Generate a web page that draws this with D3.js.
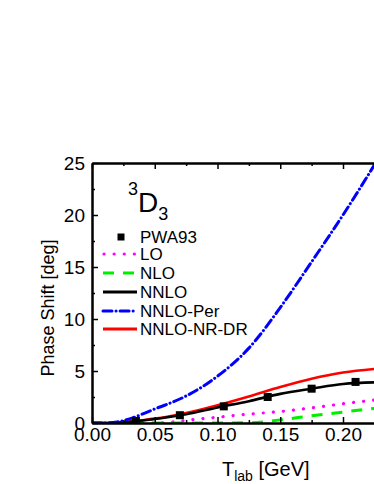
<!DOCTYPE html>
<html>
<head>
<meta charset="utf-8">
<script src="https://cdn.jsdelivr.net/npm/d3@7"></script>
<style>
  body { margin: 0; background: #fff; }
  svg { display: block; font-family: "Liberation Sans", Arial, sans-serif; }
</style>
</head>
<body>
<div id="chart"></div>
<script>
// energies (GeV) used for the curves
var tlab = [0, 0.01, 0.02, 0.03, 0.04, 0.05, 0.06, 0.075, 0.1, 0.125, 0.15, 0.175, 0.2, 0.23];
var lo      = [0, 0, 0, 0, 0, 0, 0.05, 0.25, 0.55, 0.85, 1.1, 1.45, 1.85, 2.28];
var nlo     = [0, 0, 0, 0, 0, 0, 0, 0, 0, 0.02, 0.3, 0.7, 1.05, 1.48];
var nnlo    = [0, 0, 0.03, 0.12, 0.24, 0.38, 0.55, 0.85, 1.5, 2.1, 2.8, 3.3, 3.75, 3.92];
var nnloPer = [0, 0, 0.1, 0.4, 0.85, 1.35, 1.8, 2.6, 4.5, 7.2, 11.1, 15.5, 20.0, 25.8];
var nnloDR  = [0, 0, 0.03, 0.13, 0.27, 0.42, 0.6, 0.95, 1.7, 2.55, 3.45, 4.25, 4.85, 5.25];

// PWA93 points
var pwaT   = [0.035, 0.07, 0.105, 0.14, 0.175, 0.21];
var pwaVal = [0.2, 0.75, 1.6, 2.5, 3.3, 3.95];

var xTicks = [0, 0.05, 0.1, 0.15, 0.2, 0.25];
var yTicks = [0, 5, 10, 15, 20, 25];

var seriesNames = ['LO', 'NLO', 'NNLO', 'NNLO-Per', 'NNLO-NR-DR'];
var seriesVals = [lo, nlo, nnlo, nnloPer, nnloDR];
var seriesColors = ['#ff00ff', '#00ee00', '#000000', '#0000ff', '#ff0000'];
var seriesDash = ['0.1,10', '11,9', null, '9,4,0.1,4', null];

(function () {
    var width = 374, height = 484;
    var left = 92, plotTop = 163, bottom = 423, plotRight = 405.75;

    var svg = d3.select('#chart').append('svg')
        .attr('width', width)
        .attr('height', height);

    var x = d3.scaleLinear().domain([0, 0.25]).range([left, plotRight]);
    var y = d3.scaleLinear().domain([0, 25]).range([bottom, plotTop]);

    svg.append('clipPath').attr('id', 'plotclip')
        .append('rect')
        .attr('x', left).attr('y', plotTop)
        .attr('width', plotRight - left).attr('height', bottom - plotTop);

    var line = d3.line()
        .x(function (d) { return x(d[0]); })
        .y(function (d) { return y(d[1]); })
        .curve(d3.curveMonotoneX);

    var plot = svg.append('g').attr('clip-path', 'url(#plotclip)');

    // draw order: LO, NLO under, then red, black, blue
    [0, 1, 4, 2, 3].forEach(function (k) {
        var pts = tlab.map(function (t, i) { return [t, seriesVals[k][i]]; });
        plot.append('path')
            .attr('d', line(pts))
            .attr('fill', 'none')
            .attr('stroke', seriesColors[k])
            .attr('stroke-width', k === 0 ? 3.2 : (k === 2 || k === 4 ? 2.6 : 3))
            .attr('stroke-linecap', k === 0 || k === 3 ? 'round' : 'butt')
            .attr('stroke-dasharray', seriesDash[k]);
    });

    plot.selectAll('.pwa')
        .data(pwaT)
        .enter()
        .append('rect')
        .attr('class', 'pwa')
        .attr('x', function (d) { return x(d) - 4; })
        .attr('y', function (d, i) { return y(pwaVal[i]) - 4; })
        .attr('width', 8)
        .attr('height', 8)
        .attr('fill', '#000');

    // axes
    function styleAxis(g) {
        g.select('.domain').attr('stroke', '#000').attr('stroke-width', 2);
        g.selectAll('.tick line').attr('stroke', '#000').attr('stroke-width', 1.5);
        g.selectAll('text').attr('font-size', 19).attr('fill', '#000')
            .attr('font-family', '"Liberation Sans", Arial, sans-serif');
    }

    var fmt = d3.format('.2f');
    var minorX = [0.025, 0.075, 0.125, 0.175, 0.225];
    var minorY = [2.5, 7.5, 12.5, 17.5, 22.5];

    svg.append('g')
        .attr('transform', 'translate(0,' + bottom + ')')
        .call(d3.axisBottom(x).tickValues(minorX).tickSize(-3).tickSizeOuter(0).tickFormat(''))
        .call(styleAxis);
    svg.append('g')
        .attr('transform', 'translate(0,' + bottom + ')')
        .call(d3.axisBottom(x).tickValues(xTicks).tickSize(-6).tickSizeOuter(0).tickPadding(5).tickFormat(fmt))
        .call(styleAxis);

    svg.append('g')
        .attr('transform', 'translate(0,' + plotTop + ')')
        .call(d3.axisTop(x).tickValues(minorX).tickSize(-3).tickSizeOuter(0).tickFormat(''))
        .call(styleAxis);
    svg.append('g')
        .attr('transform', 'translate(0,' + plotTop + ')')
        .call(d3.axisTop(x).tickValues(xTicks).tickSize(-6).tickSizeOuter(0).tickFormat(''))
        .call(styleAxis);

    svg.append('g')
        .attr('transform', 'translate(' + left + ',0)')
        .call(d3.axisLeft(y).tickValues(minorY).tickSize(-3).tickSizeOuter(0).tickFormat(''))
        .call(styleAxis);
    svg.append('g')
        .attr('transform', 'translate(' + left + ',0)')
        .call(d3.axisLeft(y).tickValues(yTicks).tickSize(-6).tickSizeOuter(0).tickPadding(7).tickFormat(d3.format('d')))
        .call(styleAxis);

    // axis titles
    svg.append('text')
        .attr('transform', 'translate(54,308) rotate(-90)')
        .attr('text-anchor', 'middle')
        .attr('font-size', 18)
        .text('Phase Shift [deg]');

    var xt = svg.append('text')
        .attr('x', 222).attr('y', 476)
        .attr('font-size', 20);
    xt.append('tspan').text('T');
    xt.append('tspan').attr('font-size', 14).attr('dy', 5).text('lab');
    xt.append('tspan').attr('dy', -5).text(' [GeV]');

    // partial wave label
    var pw = svg.append('text').attr('x', 128).attr('y', 212).attr('font-size', 28);
    pw.append('tspan').attr('font-size', 18).attr('dy', -17).text('3');
    pw.append('tspan').attr('dy', 17).text('D');
    pw.append('tspan').attr('font-size', 18).attr('dy', 8).text('3');

    // legend
    var legY = [243, 260, 279, 298, 317, 335];
    svg.append('rect')
        .attr('x', 117.5).attr('y', legY[0] - 9.5)
        .attr('width', 7).attr('height', 7)
        .attr('fill', '#000');
    svg.append('text')
        .attr('x', 140).attr('y', legY[0])
        .attr('font-size', 17)
        .text('PWA93');

    seriesNames.forEach(function (name, k) {
        var yy = legY[k + 1];
        svg.append('line')
            .attr('x1', k === 0 ? 104 : 103).attr('x2', 137)
            .attr('y1', yy - 6).attr('y2', yy - 6)
            .attr('stroke', seriesColors[k])
            .attr('stroke-width', k === 0 ? 3.2 : 3)
            .attr('stroke-linecap', k === 0 || k === 3 ? 'round' : 'butt')
            .attr('stroke-dasharray', seriesDash[k]);
        svg.append('text')
            .attr('x', 140).attr('y', yy)
            .attr('font-size', 17)
            .text(name);
    });
})();
</script>
</body>
</html>
